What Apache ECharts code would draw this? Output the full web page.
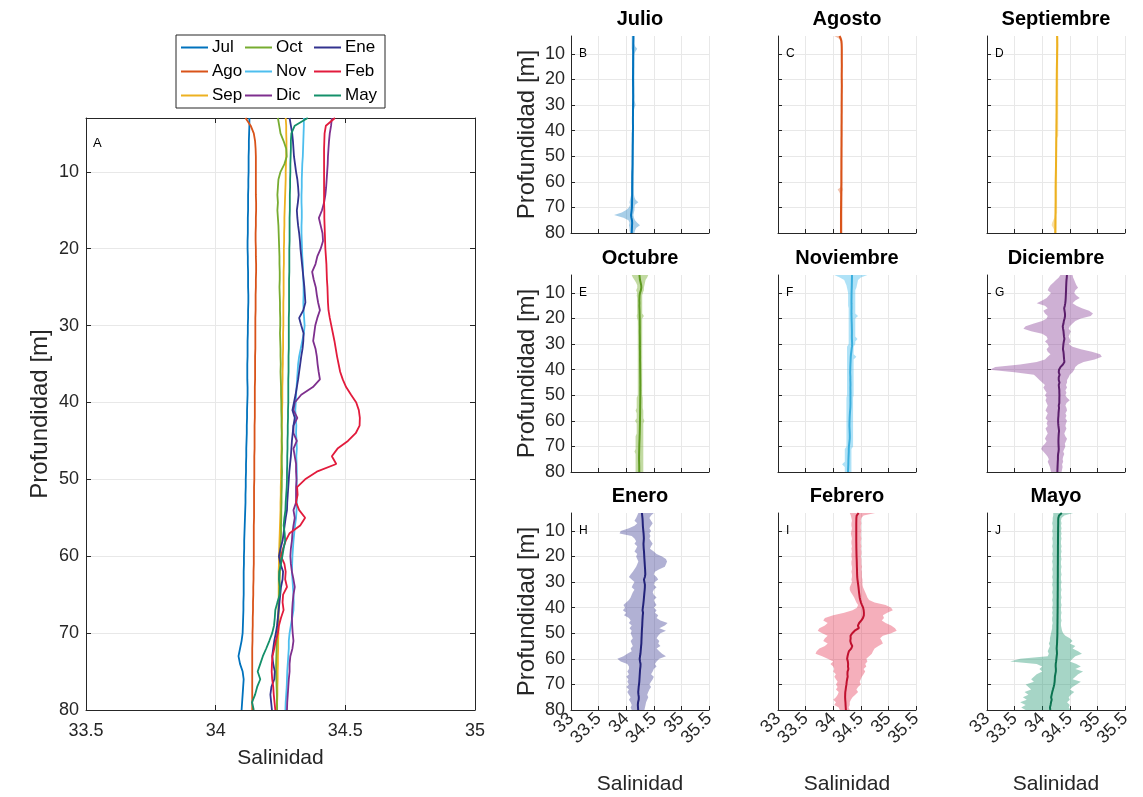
<!DOCTYPE html>
<html><head><meta charset="utf-8">
<script src="https://cdn.jsdelivr.net/npm/echarts@6/dist/echarts.min.js"></script>
<style>html,body{margin:0;padding:0;background:#fff}#c{width:1143px;height:797px}</style>
</head><body><div id="c"></div><script>
// ---------------- DATA ----------------
const depth = [3,4,5,6,7,8,9,10,11,12,13,14,15,16,17,18,19,20,21,22,23,24,25,26,27,28,29,30,31,32,33,34,35,36,37,38,39,40,41,42,43,44,45,46,47,48,49,50,51,52,53,54,55,56,57,58,59,60,61,62,63,64,65,66,67,68,69,70,71,72,73,74,75,76,77,78,79,80];
const depthTicks = [10,20,30,40,50,60,70,80];
const months = ['Jul','Ago','Sep','Oct','Nov','Dic','Ene','Feb','May'];
const monthTitles = ['Julio','Agosto','Septiembre','Octubre','Noviembre','Diciembre','Enero','Febrero','Mayo'];
const panelLetters = ['B','C','D','E','F','G','H','I','J'];

// mean salinity profiles
const salJul = [34.130,34.130,34.129,34.128,34.128,34.127,34.127,34.127,34.126,34.126,34.125,34.125,34.125,34.124,34.124,34.124,34.123,34.123,34.124,34.124,34.125,34.125,34.125,34.126,34.126,34.125,34.125,34.124,34.124,34.123,34.123,34.123,34.122,34.122,34.122,34.123,34.123,34.122,34.121,34.121,34.120,34.120,34.119,34.118,34.118,34.117,34.117,34.116,34.116,34.115,34.115,34.114,34.113,34.112,34.111,34.110,34.110,34.109,34.109,34.108,34.108,34.108,34.108,34.107,34.107,34.106,34.105,34.104,34.100,34.094,34.088,34.094,34.104,34.108,34.106,34.104,34.102,34.100];
const salAgo = [34.115,34.135,34.147,34.152,34.154,34.155,34.155,34.155,34.155,34.155,34.155,34.156,34.156,34.155,34.155,34.154,34.154,34.155,34.155,34.156,34.156,34.155,34.155,34.154,34.154,34.154,34.153,34.153,34.153,34.153,34.153,34.152,34.152,34.152,34.152,34.151,34.151,34.151,34.151,34.151,34.150,34.150,34.150,34.150,34.149,34.149,34.149,34.149,34.148,34.148,34.148,34.148,34.148,34.147,34.147,34.147,34.147,34.147,34.147,34.146,34.146,34.145,34.145,34.144,34.144,34.143,34.143,34.142,34.142,34.141,34.141,34.141,34.141,34.141,34.141,34.141,34.141,34.141];
const salSep = [34.270,34.272,34.272,34.273,34.273,34.272,34.271,34.270,34.270,34.269,34.268,34.267,34.266,34.265,34.265,34.264,34.264,34.263,34.263,34.263,34.262,34.262,34.262,34.262,34.261,34.261,34.261,34.261,34.260,34.260,34.260,34.259,34.259,34.258,34.258,34.257,34.257,34.257,34.256,34.256,34.255,34.255,34.254,34.254,34.253,34.253,34.252,34.252,34.251,34.251,34.250,34.250,34.249,34.248,34.247,34.246,34.245,34.244,34.244,34.243,34.243,34.243,34.243,34.243,34.243,34.243,34.242,34.242,34.241,34.241,34.240,34.240,34.239,34.239,34.238,34.238,34.237,34.237];
const salOct = [34.240,34.245,34.250,34.262,34.272,34.274,34.265,34.250,34.242,34.240,34.238,34.240,34.238,34.240,34.242,34.243,34.244,34.245,34.246,34.246,34.247,34.247,34.246,34.247,34.248,34.248,34.249,34.249,34.248,34.249,34.250,34.250,34.251,34.250,34.251,34.252,34.252,34.253,34.253,34.254,34.254,34.255,34.255,34.256,34.255,34.255,34.256,34.255,34.255,34.254,34.254,34.253,34.253,34.252,34.252,34.251,34.250,34.250,34.249,34.248,34.247,34.246,34.245,34.243,34.242,34.240,34.238,34.237,34.236,34.235,34.234,34.233,34.233,34.234,34.235,34.236,34.236,34.237];
const salNov = [34.340,34.340,34.339,34.338,34.337,34.336,34.334,34.333,34.332,34.332,34.331,34.331,34.332,34.332,34.331,34.331,34.332,34.333,34.334,34.336,34.337,34.338,34.339,34.339,34.338,34.339,34.341,34.343,34.340,34.334,34.328,34.322,34.318,34.316,34.314,34.312,34.310,34.309,34.307,34.309,34.311,34.310,34.312,34.313,34.311,34.312,34.313,34.312,34.313,34.312,34.313,34.312,34.310,34.306,34.303,34.300,34.298,34.296,34.295,34.294,34.296,34.298,34.300,34.301,34.300,34.295,34.290,34.285,34.282,34.282,34.280,34.278,34.276,34.275,34.274,34.272,34.270,34.269];
const salDic = [34.448,34.445,34.440,34.437,34.435,34.433,34.432,34.430,34.428,34.426,34.423,34.418,34.410,34.398,34.405,34.412,34.414,34.405,34.392,34.385,34.372,34.378,34.386,34.390,34.395,34.402,34.392,34.384,34.380,34.376,34.385,34.390,34.393,34.397,34.402,34.375,34.330,34.305,34.300,34.315,34.300,34.300,34.313,34.300,34.305,34.310,34.310,34.312,34.310,34.310,34.310,34.300,34.305,34.300,34.296,34.294,34.290,34.288,34.290,34.294,34.300,34.305,34.300,34.297,34.295,34.294,34.295,34.297,34.300,34.296,34.288,34.285,34.285,34.282,34.280,34.278,34.276,34.275];
const salEne = [34.285,34.290,34.295,34.298,34.300,34.302,34.306,34.310,34.315,34.318,34.320,34.317,34.313,34.315,34.318,34.322,34.325,34.327,34.330,34.333,34.336,34.339,34.342,34.344,34.346,34.338,34.322,34.330,34.339,34.338,34.335,34.330,34.326,34.322,34.318,34.313,34.308,34.302,34.296,34.305,34.300,34.297,34.294,34.292,34.290,34.287,34.284,34.282,34.280,34.278,34.276,34.275,34.270,34.266,34.262,34.258,34.250,34.244,34.250,34.260,34.258,34.252,34.249,34.246,34.243,34.240,34.237,34.232,34.226,34.222,34.218,34.222,34.228,34.226,34.215,34.211,34.214,34.217];
const salFeb = [34.460,34.425,34.420,34.419,34.418,34.418,34.418,34.418,34.418,34.418,34.418,34.418,34.419,34.419,34.420,34.421,34.422,34.423,34.425,34.427,34.428,34.429,34.431,34.432,34.433,34.435,34.440,34.446,34.452,34.458,34.463,34.468,34.474,34.480,34.490,34.503,34.522,34.542,34.552,34.556,34.555,34.540,34.510,34.470,34.448,34.465,34.390,34.345,34.314,34.316,34.310,34.322,34.345,34.326,34.285,34.270,34.260,34.252,34.265,34.270,34.268,34.275,34.260,34.258,34.262,34.252,34.244,34.240,34.232,34.226,34.219,34.217,34.216,34.218,34.222,34.224,34.227,34.230];
const salMay = [34.355,34.305,34.292,34.290,34.290,34.289,34.288,34.288,34.287,34.287,34.286,34.286,34.286,34.285,34.285,34.285,34.285,34.284,34.284,34.284,34.284,34.283,34.283,34.283,34.283,34.283,34.282,34.282,34.282,34.282,34.282,34.281,34.281,34.281,34.280,34.280,34.280,34.280,34.279,34.279,34.278,34.278,34.277,34.277,34.276,34.276,34.275,34.275,34.274,34.272,34.270,34.269,34.265,34.262,34.266,34.268,34.262,34.257,34.252,34.245,34.244,34.248,34.247,34.238,34.230,34.228,34.225,34.218,34.207,34.195,34.182,34.172,34.162,34.172,34.160,34.152,34.140,34.147];

// spread envelopes (lower / upper) for the monthly panels
const loJul = [34.10,34.10,34.10,34.10,34.10,34.10,34.11,34.11,34.11,34.11,34.11,34.11,34.11,34.11,34.11,34.11,34.11,34.11,34.11,34.11,34.11,34.11,34.11,34.11,34.11,34.11,34.11,34.11,34.11,34.11,34.11,34.11,34.11,34.11,34.11,34.11,34.11,34.11,34.10,34.10,34.10,34.10,34.10,34.10,34.10,34.10,34.10,34.10,34.10,34.10,34.10,34.10,34.10,34.09,34.09,34.09,34.09,34.09,34.09,34.09,34.09,34.09,34.09,34.08,34.07,34.06,34.07,34.05,34.00,33.92,33.78,33.95,34.04,34.06,34.05,34.06,34.06,34.07];
const hiJul = [34.15,34.15,34.15,34.15,34.16,34.20,34.17,34.15,34.15,34.15,34.15,34.15,34.15,34.15,34.15,34.15,34.15,34.15,34.15,34.15,34.15,34.15,34.15,34.15,34.15,34.15,34.16,34.17,34.15,34.14,34.14,34.14,34.14,34.14,34.14,34.14,34.14,34.14,34.14,34.14,34.14,34.14,34.14,34.14,34.14,34.14,34.14,34.14,34.14,34.14,34.14,34.14,34.14,34.14,34.14,34.14,34.14,34.14,34.14,34.14,34.14,34.14,34.14,34.15,34.17,34.22,34.16,34.15,34.15,34.14,34.13,34.14,34.16,34.20,34.25,34.18,34.16,34.15];
const loAgo = [34.02,34.10,34.14,34.14,34.14,34.14,34.14,34.14,34.14,34.14,34.14,34.14,34.14,34.14,34.14,34.14,34.14,34.14,34.14,34.14,34.14,34.14,34.14,34.14,34.14,34.14,34.14,34.14,34.14,34.14,34.14,34.14,34.14,34.14,34.14,34.14,34.14,34.14,34.14,34.14,34.14,34.14,34.14,34.14,34.14,34.14,34.14,34.14,34.14,34.14,34.14,34.14,34.14,34.14,34.14,34.14,34.14,34.14,34.14,34.14,34.08,34.11,34.13,34.13,34.13,34.13,34.13,34.13,34.13,34.13,34.13,34.13,34.13,34.13,34.13,34.13,34.13,34.13];
const hiAgo = [34.14,34.16,34.17,34.17,34.17,34.17,34.17,34.17,34.17,34.17,34.17,34.17,34.17,34.17,34.17,34.17,34.17,34.17,34.17,34.17,34.17,34.17,34.17,34.17,34.17,34.17,34.17,34.17,34.17,34.17,34.17,34.17,34.17,34.17,34.17,34.17,34.17,34.17,34.17,34.17,34.17,34.17,34.17,34.17,34.17,34.17,34.17,34.17,34.17,34.17,34.17,34.17,34.17,34.17,34.17,34.17,34.17,34.17,34.17,34.17,34.18,34.17,34.17,34.17,34.17,34.17,34.17,34.17,34.17,34.17,34.17,34.17,34.17,34.17,34.17,34.17,34.17,34.17];
const loSep = [34.25,34.25,34.25,34.25,34.25,34.25,34.25,34.25,34.25,34.25,34.25,34.25,34.25,34.25,34.25,34.25,34.25,34.25,34.25,34.25,34.25,34.25,34.25,34.25,34.25,34.25,34.25,34.25,34.25,34.25,34.25,34.25,34.25,34.25,34.25,34.25,34.25,34.25,34.25,34.25,34.24,34.24,34.24,34.24,34.24,34.24,34.24,34.24,34.24,34.24,34.24,34.24,34.24,34.24,34.24,34.24,34.24,34.24,34.24,34.24,34.24,34.24,34.24,34.24,34.24,34.24,34.24,34.24,34.24,34.24,34.23,34.22,34.20,34.18,34.17,34.20,34.22,34.22];
const hiSep = [34.29,34.29,34.29,34.29,34.29,34.29,34.29,34.29,34.29,34.29,34.29,34.29,34.29,34.29,34.29,34.29,34.29,34.29,34.29,34.29,34.29,34.29,34.29,34.29,34.29,34.29,34.29,34.29,34.29,34.29,34.29,34.29,34.29,34.29,34.29,34.29,34.29,34.29,34.29,34.29,34.27,34.27,34.27,34.27,34.27,34.27,34.27,34.27,34.27,34.27,34.27,34.27,34.27,34.27,34.27,34.27,34.27,34.27,34.27,34.27,34.27,34.27,34.27,34.27,34.27,34.27,34.27,34.27,34.27,34.27,34.26,34.26,34.26,34.26,34.26,34.26,34.26,34.26];
const loOct = [34.10,34.12,34.15,34.18,34.20,34.20,34.18,34.20,34.19,34.20,34.20,34.20,34.20,34.20,34.20,34.20,34.19,34.20,34.21,34.21,34.21,34.21,34.21,34.21,34.21,34.21,34.21,34.21,34.21,34.21,34.21,34.21,34.21,34.21,34.21,34.21,34.21,34.21,34.21,34.21,34.21,34.21,34.21,34.21,34.21,34.21,34.21,34.21,34.19,34.19,34.19,34.19,34.19,34.17,34.19,34.19,34.19,34.16,34.19,34.19,34.19,34.19,34.19,34.17,34.17,34.17,34.17,34.17,34.17,34.15,34.17,34.17,34.17,34.17,34.17,34.17,34.17,34.17];
const hiOct = [34.40,34.38,34.35,34.34,34.33,34.32,34.32,34.30,34.29,34.29,34.29,34.29,34.29,34.29,34.29,34.29,34.32,34.29,34.29,34.29,34.29,34.29,34.29,34.29,34.29,34.29,34.29,34.29,34.29,34.29,34.29,34.29,34.29,34.29,34.29,34.29,34.29,34.29,34.29,34.29,34.29,34.29,34.29,34.29,34.29,34.29,34.29,34.29,34.30,34.30,34.30,34.30,34.30,34.31,34.31,34.31,34.31,34.33,34.31,34.31,34.31,34.31,34.31,34.31,34.31,34.31,34.31,34.31,34.31,34.31,34.31,34.31,34.31,34.31,34.31,34.31,34.31,34.31];
const loNov = [34.02,34.12,34.20,34.22,34.24,34.25,34.26,34.27,34.27,34.27,34.27,34.27,34.27,34.28,34.28,34.28,34.28,34.28,34.28,34.28,34.28,34.28,34.28,34.28,34.28,34.28,34.28,34.28,34.25,34.25,34.25,34.25,34.25,34.25,34.25,34.25,34.25,34.25,34.25,34.25,34.25,34.25,34.25,34.25,34.25,34.25,34.25,34.25,34.24,34.24,34.24,34.24,34.24,34.24,34.24,34.24,34.24,34.24,34.24,34.24,34.24,34.24,34.24,34.24,34.24,34.24,34.24,34.24,34.21,34.21,34.21,34.21,34.21,34.21,34.16,34.21,34.21,34.21];
const hiNov = [34.62,34.50,34.45,34.44,34.43,34.42,34.40,34.40,34.40,34.40,34.40,34.40,34.40,34.40,34.40,34.40,34.45,34.40,34.40,34.40,34.40,34.40,34.40,34.40,34.40,34.44,34.40,34.40,34.37,34.37,34.37,34.37,34.42,34.37,34.37,34.37,34.37,34.37,34.37,34.37,34.37,34.37,34.37,34.37,34.37,34.37,34.37,34.37,34.36,34.36,34.36,34.36,34.36,34.36,34.36,34.36,34.36,34.36,34.36,34.36,34.36,34.36,34.36,34.36,34.36,34.36,34.36,34.36,34.33,34.33,34.33,34.33,34.33,34.33,34.33,34.33,34.33,34.33];
const loDic = [34.33,34.30,34.25,34.20,34.15,34.12,34.10,34.16,34.12,34.08,34.00,33.90,34.05,34.10,34.02,34.05,34.10,34.08,34.00,33.85,33.70,33.66,33.80,34.00,34.08,34.10,34.05,34.10,34.12,34.08,34.10,34.15,34.10,34.05,33.90,33.60,33.15,33.05,33.50,33.85,33.90,33.95,34.00,34.05,34.02,34.05,34.08,34.05,34.08,34.06,34.08,34.10,34.08,34.06,34.10,34.08,34.06,34.10,34.08,34.10,34.06,34.08,34.10,34.07,34.05,34.08,34.05,34.00,33.98,34.02,34.06,34.10,34.12,34.10,34.12,34.14,34.15,34.16];
const hiDic = [34.55,34.56,34.58,34.60,34.62,34.65,34.60,34.58,34.62,34.68,34.60,34.55,34.62,34.72,34.85,34.92,34.88,34.70,34.60,34.55,34.50,34.48,34.52,34.50,34.48,34.50,34.52,34.48,34.55,34.70,34.90,35.05,35.08,34.95,34.75,34.65,34.60,34.58,34.55,34.50,34.48,34.45,34.45,34.43,34.45,34.42,34.44,34.42,34.45,34.50,34.44,34.42,34.44,34.45,34.42,34.44,34.42,34.45,34.43,34.42,34.44,34.42,34.40,34.42,34.45,34.43,34.41,34.42,34.40,34.38,34.40,34.38,34.37,34.38,34.36,34.37,34.36,34.35];
const loEne = [34.22,34.20,34.18,34.15,34.20,34.15,34.05,33.90,33.88,34.10,34.15,34.18,34.15,34.20,34.18,34.15,34.20,34.18,34.20,34.22,34.20,34.18,34.15,34.12,34.08,34.05,34.10,34.15,34.12,34.10,34.15,34.12,34.10,34.08,34.05,34.00,33.95,33.98,33.94,34.00,33.96,34.05,34.08,34.05,34.10,34.06,34.10,34.08,34.10,34.12,34.08,34.10,34.12,34.08,34.10,34.02,33.95,33.84,33.90,34.02,34.05,34.05,34.02,34.05,34.00,34.04,34.02,34.05,34.00,34.05,34.02,34.05,34.08,34.05,34.08,34.10,34.08,34.10];
const hiEne = [34.50,34.45,34.42,34.45,34.48,34.45,34.42,34.45,34.42,34.44,34.42,34.45,34.48,34.45,34.43,34.50,34.55,34.65,34.72,34.74,34.72,34.70,34.60,34.52,34.50,34.55,34.58,34.52,34.50,34.55,34.50,34.48,34.50,34.55,34.50,34.52,34.55,34.50,34.55,34.52,34.58,34.55,34.62,34.75,34.70,34.60,34.72,34.62,34.58,34.55,34.60,34.58,34.62,34.55,34.60,34.65,34.72,34.60,34.55,34.52,34.55,34.50,34.48,34.45,34.50,34.48,34.45,34.42,34.45,34.42,34.40,34.38,34.40,34.38,34.36,34.35,34.34,34.33];
const loFeb = [34.30,34.32,34.33,34.34,34.33,34.33,34.34,34.33,34.32,34.33,34.34,34.33,34.33,34.34,34.33,34.34,34.33,34.33,34.34,34.33,34.33,34.34,34.34,34.33,34.34,34.34,34.33,34.34,34.32,34.30,34.30,34.32,34.35,34.38,34.40,34.42,34.45,34.43,34.35,34.20,34.00,33.85,33.82,33.90,33.85,33.75,33.72,33.80,33.90,33.85,33.82,33.90,33.85,33.75,33.70,33.68,33.80,33.90,34.00,33.95,34.00,34.02,34.00,34.05,34.02,34.05,34.08,34.05,34.08,34.05,34.10,34.08,34.05,34.00,34.05,34.02,34.10,34.12];
const hiFeb = [34.76,34.55,34.51,34.50,34.51,34.50,34.50,34.51,34.50,34.50,34.51,34.50,34.50,34.51,34.50,34.51,34.51,34.50,34.51,34.51,34.51,34.52,34.51,34.52,34.52,34.52,34.53,34.53,34.53,34.54,34.56,34.58,34.60,34.62,34.65,34.75,34.95,35.05,35.08,34.98,34.90,34.92,34.88,34.95,35.05,35.12,35.15,35.05,34.90,34.85,34.88,34.90,34.82,34.75,34.72,34.70,34.65,34.60,34.62,34.58,34.60,34.55,34.58,34.55,34.52,34.50,34.48,34.50,34.45,34.42,34.45,34.40,34.35,34.32,34.30,34.30,34.28,34.30];
const loMay = [34.20,34.20,34.19,34.19,34.18,34.19,34.19,34.18,34.19,34.19,34.18,34.19,34.19,34.18,34.19,34.19,34.18,34.19,34.19,34.18,34.19,34.19,34.18,34.19,34.19,34.18,34.19,34.19,34.18,34.19,34.19,34.18,34.19,34.19,34.18,34.19,34.19,34.18,34.19,34.18,34.19,34.18,34.18,34.19,34.18,34.18,34.17,34.16,34.15,34.14,34.14,34.12,34.14,34.12,34.10,34.12,34.10,33.60,33.42,33.90,34.00,33.95,34.00,33.90,33.85,33.80,33.85,33.70,33.75,33.80,33.68,33.75,33.65,33.72,33.60,33.70,33.62,33.70];
const hiMay = [34.56,34.40,34.35,34.34,34.35,34.34,34.35,34.34,34.35,34.34,34.35,34.34,34.34,34.35,34.34,34.35,34.34,34.34,34.35,34.34,34.34,34.35,34.34,34.34,34.35,34.34,34.34,34.35,34.34,34.34,34.35,34.34,34.34,34.35,34.34,34.34,34.35,34.34,34.34,34.35,34.34,34.34,34.35,34.34,34.34,34.35,34.36,34.38,34.42,34.50,34.55,34.50,34.60,34.55,34.65,34.72,34.60,34.55,34.50,34.62,34.70,34.60,34.74,34.65,34.60,34.55,34.70,34.62,34.55,34.50,34.58,34.52,34.48,34.50,34.45,34.50,34.48,34.52];

// ---------------- STYLE ----------------
const salMeans = [salJul,salAgo,salSep,salOct,salNov,salDic,salEne,salFeb,salMay];
const salLo = [loJul,loAgo,loSep,loOct,loNov,loDic,loEne,loFeb,loMay];
const salHi = [hiJul,hiAgo,hiSep,hiOct,hiNov,hiDic,hiEne,hiFeb,hiMay];
const colors = ['#0072BD','#D95319','#EDB120','#77AC30','#4DBEEE','#7E2F8E','#33338F','#E21B3C','#14906A'];
const meanColors = ['#0072BD','#D95319','#EDB120','#5E9A20','#3AAEDD','#5B1E6B','#22227A','#C0102E','#0B7350'];
const bandColors = ['rgba(0,114,189,0.35)','rgba(217,83,25,0.35)','rgba(237,177,32,0.4)','rgba(119,172,48,0.45)','rgba(77,190,238,0.45)','rgba(126,47,142,0.38)','rgba(51,51,143,0.38)','rgba(226,27,60,0.35)','rgba(20,144,106,0.38)'];

const FONT = '"Liberation Sans", Arial, Helvetica, sans-serif';
const AX = '#262626';
const GRIDC = '#e8e8e8';
const colX = [571, 778, 987], rowY = [36, 275, 513];
const PW = 138, PH = 197;

const grids = [{left:86, top:118, width:389, height:592}];
for (let r = 0; r < 3; r++) for (let c = 0; c < 3; c++) grids.push({left:colX[c], top:rowY[r], width:PW, height:PH});

const xAxes = [], yAxes = [];
const lineAx = {show:true, onZero:false, lineStyle:{color:AX, width:1}};
// main panel A
xAxes.push({gridIndex:0, type:'value', min:33.5, max:35, interval:0.5, position:'bottom',
  axisLine:lineAx, axisTick:{show:true, inside:true, length:5, lineStyle:{color:AX}},
  axisLabel:{color:AX, fontSize:18, fontFamily:FONT, margin:12},
  splitLine:{show:true, lineStyle:{color:GRIDC}},
  name:'Salinidad', nameLocation:'middle', nameGap:38, nameTextStyle:{color:AX, fontSize:21, fontFamily:FONT}});
xAxes.push({gridIndex:0, type:'value', min:33.5, max:35, interval:0.5, position:'top',
  axisLine:lineAx, axisTick:{show:true, inside:true, length:5, lineStyle:{color:AX}},
  axisLabel:{show:false}, splitLine:{show:false}});
yAxes.push({gridIndex:0, type:'value', min:3, max:80, inverse:true, position:'left',
  axisLine:lineAx, axisTick:{show:true, inside:true, length:5, customValues:depthTicks, lineStyle:{color:AX}},
  axisLabel:{customValues:depthTicks, color:AX, fontSize:18, fontFamily:FONT, margin:7},
  splitLine:{show:true, lineStyle:{color:GRIDC}},
  name:'Profundidad [m]', nameLocation:'middle', nameRotate:90, nameGap:34, nameTextStyle:{color:AX, fontSize:24, fontFamily:FONT}});
yAxes.push({gridIndex:0, type:'value', min:3, max:80, inverse:true, position:'right',
  axisLine:lineAx, axisTick:{show:true, inside:true, length:5, customValues:depthTicks, lineStyle:{color:AX}},
  axisLabel:{show:false}, splitLine:{show:false}});
// small panels
for (let k = 0; k < 9; k++) {
  const r = Math.floor(k / 3), c = k % 3;
  xAxes.push({gridIndex:k+1, type:'value', min:33, max:35.5, interval:0.5, position:'bottom',
    axisLine:lineAx, axisTick:{show:true, inside:true, length:4, lineStyle:{color:AX}},
    axisLabel:{show:r === 2, rotate:45, color:AX, fontSize:18, fontFamily:FONT, margin:6},
    splitLine:{show:true, lineStyle:{color:GRIDC}},
    name: r === 2 ? 'Salinidad' : '', nameLocation:'middle', nameGap:64, nameTextStyle:{color:AX, fontSize:21, fontFamily:FONT}});
  yAxes.push({gridIndex:k+1, type:'value', min:3, max:80, inverse:true, position:'left',
    axisLine:lineAx, axisTick:{show:true, inside:true, length:4, customValues:depthTicks, lineStyle:{color:AX}},
    axisLabel:{show:c === 0, customValues:depthTicks, color:AX, fontSize:18, fontFamily:FONT, margin:6},
    splitLine:{show:true, lineStyle:{color:GRIDC}},
    name: c === 0 ? 'Profundidad [m]' : '', nameLocation:'middle', nameRotate:90, nameGap:32, nameTextStyle:{color:AX, fontSize:24, fontFamily:FONT}});
}

const series = [];
// main profiles
for (let k = 0; k < 9; k++) {
  series.push({type:'line', name:months[k], xAxisIndex:0, yAxisIndex:0,
    data: depth.map((d, i) => [salMeans[k][i], d]),
    symbol:'none', showSymbol:false, lineStyle:{color:colors[k], width:1.8}, itemStyle:{color:colors[k]}, z:3});
}
// monthly panels: envelope + mean
for (let k = 0; k < 9; k++) {
  const lo = salLo[k], hi = salHi[k];
  series.push({type:'custom', name:monthTitles[k] + ' rango', xAxisIndex:k+2, yAxisIndex:k+2, silent:true, z:2,
    data: depth.map((d, i) => [lo[i], hi[i], d]),
    encode:{x:[0,1], y:2},
    renderItem: function (params, api) {
      if (params.dataIndex !== 0) return;
      const pts = [];
      for (let i = 0; i < depth.length; i++) pts.push(api.coord([lo[i], depth[i]]));
      for (let i = depth.length - 1; i >= 0; i--) pts.push(api.coord([hi[i], depth[i]]));
      return {type:'polygon', shape:{points:pts}, style:{fill:bandColors[k], stroke:null}};
    }});
  series.push({type:'line', name:monthTitles[k], xAxisIndex:k+2, yAxisIndex:k+2,
    data: depth.map((d, i) => [salMeans[k][i], d]),
    symbol:'none', showSymbol:false, lineStyle:{color:meanColors[k], width:2}, z:3});
}

const titles = [];
for (let k = 0; k < 9; k++) {
  const r = Math.floor(k / 3), c = k % 3;
  titles.push({text:monthTitles[k], left:colX[c] + PW / 2, top:rowY[r] - 27, textAlign:'center', padding:0,
    textStyle:{fontSize:20, fontWeight:'bold', color:'#000', fontFamily:FONT}});
  titles.push({text:panelLetters[k], left:colX[c] + 8, top:rowY[r] + 12, padding:0,
    textStyle:{fontSize:12, fontWeight:'normal', color:'#000', fontFamily:FONT}});
}
titles.push({text:'A', left:93, top:137, padding:0, textStyle:{fontSize:13, fontWeight:'normal', color:'#000', fontFamily:FONT}});

const legendX = [181, 245, 314];
const legends = [0,1,2].map(c => ({
  orient:'vertical', left:legendX[c], top:39, itemGap:7, itemWidth:27, itemHeight:2, icon:'rect', padding:0,
  selectedMode:false, data: months.slice(c*3, c*3+3), z:10,
  textStyle:{fontSize:17, color:'#000', fontFamily:FONT, padding:[0,0,0,-1], lineHeight:17}
}));

const chart = echarts.init(document.getElementById('c'), null, {renderer:'canvas', width:1143, height:797});
chart.setOption({
  animation:false,
  backgroundColor:'#fff',
  grid: grids,
  xAxis: xAxes,
  yAxis: yAxes,
  title: titles,
  legend: legends,
  graphic: [{type:'rect', shape:{x:176, y:35, width:209, height:73}, style:{fill:'#fff', stroke:AX, lineWidth:1}, z:1}],
  series: series
});
</script></body></html>
